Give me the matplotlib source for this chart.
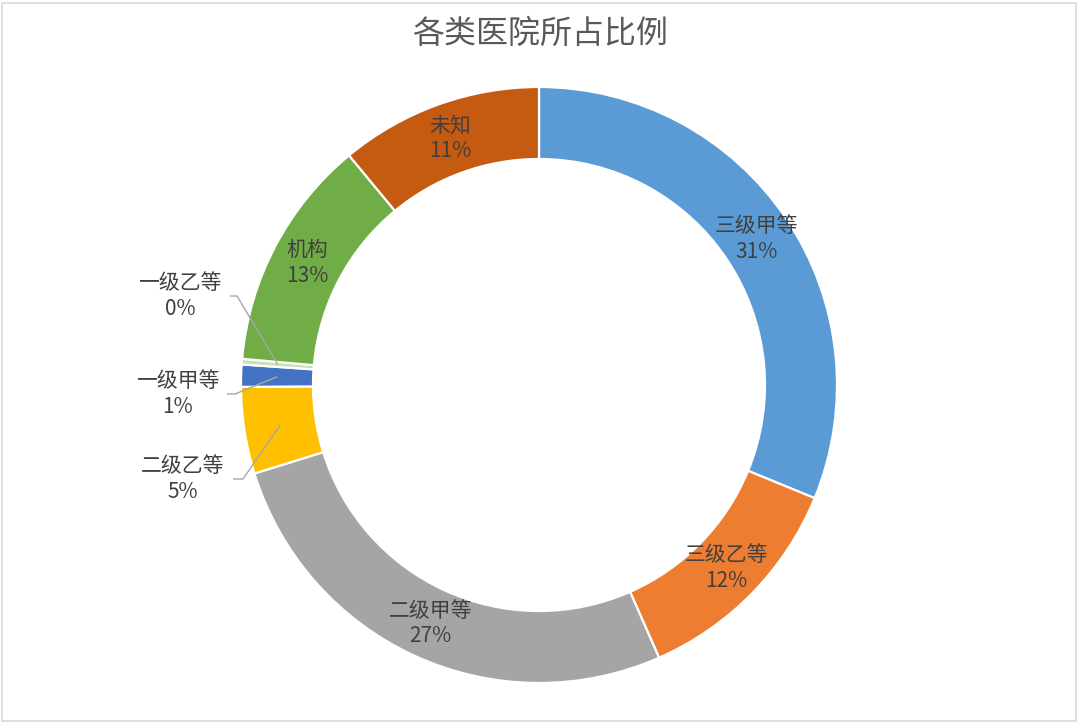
#!/usr/bin/env python3
"""Donut chart: share of hospital categories."""
import matplotlib
matplotlib.use("Agg")
import matplotlib.pyplot as plt
from matplotlib.patches import Rectangle
import numpy as np

plt.rcParams["font.family"] = ["Noto Sans CJK SC", "DejaVu Sans"]

categories = ["三级甲等", "三级乙等", "二级甲等", "二级乙等", "一级甲等", "一级乙等", "机构", "未知"]
shares = [31.2, 12.2, 26.8, 4.7, 1.2, 0.3, 12.6, 11.0]
pct_labels = ["31%", "12%", "27%", "5%", "1%", "0%", "13%", "11%"]
colors = ["#5B9BD5", "#ED7D31", "#A5A5A5", "#FFC000", "#4472C4", "#C5E0B4", "#70AD47", "#C55A11"]
outside = ["二级乙等", "一级甲等", "一级乙等"]
# text anchors (pixel space) for labels placed outside the ring
outside_text = {"一级乙等": (180, 296), "一级甲等": (178, 394), "二级乙等": (183, 479)}
outside_elbow = {"一级乙等": (230, 237), "一级甲等": (227, 235), "二级乙等": (233, 243)}

W, H = 1080, 725
CX, CY = 539, 385
R_OUT, R_IN = 298, 226

fig = plt.figure(figsize=(W / 100, H / 100), dpi=100)
ax = fig.add_axes([0, 0, 1, 1])

wedges, _ = ax.pie(shares, colors=colors, startangle=90, counterclock=False,
                   center=(CX, H - CY), radius=R_OUT,
                   wedgeprops=dict(width=R_OUT - R_IN, edgecolor="white", linewidth=1.6))
ax.set_xlim(0, W)
ax.set_ylim(0, H)
ax.set_aspect("equal")
ax.axis("off")

r_mid = (R_OUT + R_IN) / 2
for w, name, pct in zip(wedges, categories, pct_labels):
    ang = np.deg2rad((w.theta1 + w.theta2) / 2)
    px = CX + r_mid * np.cos(ang)
    py = (H - CY) + r_mid * np.sin(ang)
    if name in outside:
        tx, ty = outside_text[name]
        ty = H - ty
        x0, x1 = outside_elbow[name]
        ax.plot([x0, x1, px], [ty, ty, py], color="#A6A6A6", lw=1.0, solid_capstyle="butt")
        ax.text(tx, ty, f"{name}\n{pct}", ha="center", va="center", fontsize=15,
                color="#404040", linespacing=1.2)
    else:
        ax.text(px, py, f"{name}\n{pct}", ha="center", va="center", fontsize=15,
                color="#404040", linespacing=1.2)

ax.text(W / 2, H - 34, "各类医院所占比例", ha="center", va="center", fontsize=23,
        color="#595959")

fig.patches.append(Rectangle((2 / W, 4 / H), (W - 6) / W, (H - 7) / H, transform=fig.transFigure,
                             fill=False, edgecolor="#D9D9D9", lw=1.2))

fig.savefig("out.png", dpi=100, facecolor="white")
